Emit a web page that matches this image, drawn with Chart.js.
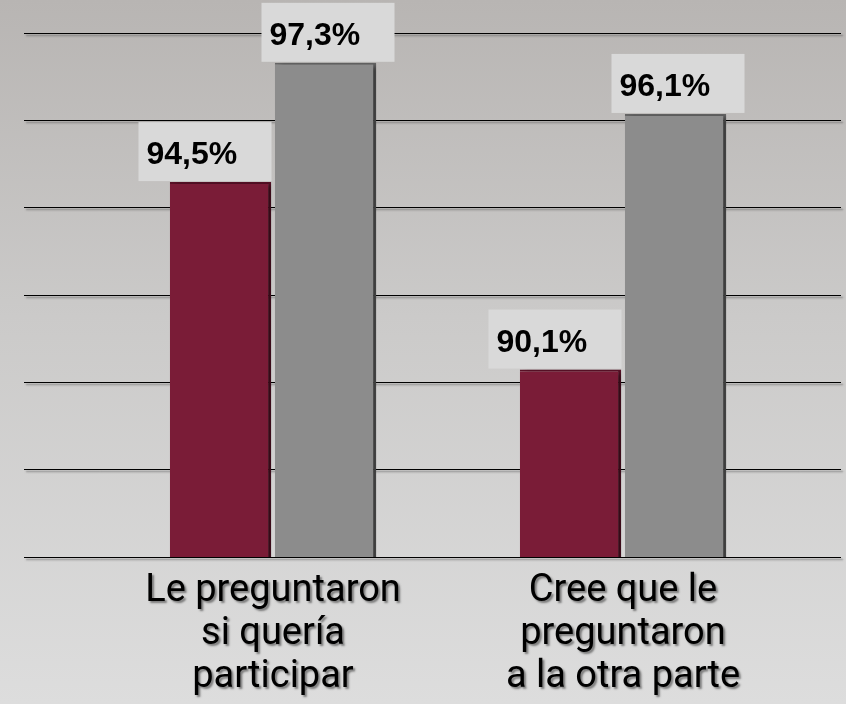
<!DOCTYPE html>
<html>
<head>
<meta charset="utf-8">
<script src="https://cdn.jsdelivr.net/npm/chart.js@4"></script>
<style>
  html, body { margin: 0; padding: 0; }
  body { width: 846px; height: 704px; background: linear-gradient(to bottom, #b8b5b3 0%, #cbcac9 45%, #dddddd 100%); }
  #wrap { width: 846px; height: 704px; }
</style>
</head>
<body>
<div id="wrap"><canvas id="respChart"></canvas></div>
<script>
const categories = [
  ['Le preguntaron', 'si quería', 'participar'],
  ['Cree que le', 'preguntaron', 'a la otra parte']
];
const seriesA = [94.5, 90.1];   // guinda
const seriesB = [97.3, 96.1];   // gris
const yMin = 85.7;
const yMax = 98;

const ctx = document.getElementById('respChart');

// sombra gris para textos y lineas de la grilla
const shadowPlugin = {
  id: 'shadows',
  beforeDraw(chart) {
    const c = chart.ctx;
    c.shadowColor = 'rgba(60,60,60,0.6)';
    c.shadowOffsetX = 2;
    c.shadowOffsetY = 2;
    c.shadowBlur = 2;
  },
  beforeDatasetsDraw(chart) {
    const c = chart.ctx;
    c.shadowColor = 'rgba(0,0,0,0.45)';
    c.shadowOffsetX = 5;
    c.shadowOffsetY = 1;
    c.shadowBlur = 5;
  },
  afterDatasetsDraw(chart) {
    const c = chart.ctx;
    c.shadowColor = 'transparent';
    c.shadowOffsetX = 0;
    c.shadowOffsetY = 0;
    c.shadowBlur = 0;
    // etiquetas de valor en cajas claras
    const shift = [82, 64];
    chart.data.datasets.forEach((ds, i) => {
      chart.getDatasetMeta(i).data.forEach((bar, j) => {
        const w = 133, h = 59;
        const left = bar.x - shift[i];
        const top = bar.y - 1 - h;
        c.fillStyle = '#d9d9d9';
        c.fillRect(left, top, w, h);
        c.fillStyle = '#000';
        c.font = 'bold 32px "Liberation Sans", Arial, sans-serif';
        c.textAlign = 'left';
        c.textBaseline = 'alphabetic';
        c.fillText(ds.data[j].toFixed(1).replace('.', ',') + '%', left + 8, top + 42);
      });
    });
  },
  afterDraw(chart) {
    chart.ctx.shadowColor = 'transparent';
  }
};

new Chart(ctx, {
  type: 'bar',
  data: {
    labels: categories,
    datasets: [
      {
        data: seriesA,
        backgroundColor: '#7a1c37',
        borderColor: '#5a1127',
        borderWidth: { top: 2, right: 3, left: 0, bottom: 0 },
        borderSkipped: 'bottom'
      },
      {
        data: seriesB,
        backgroundColor: '#8c8c8c',
        borderColor: '#666666',
        borderWidth: { top: 2, right: 3, left: 0, bottom: 0 },
        borderSkipped: 'bottom'
      }
    ]
  },
  options: {
    responsive: true,
    maintainAspectRatio: false,
    animation: false,
    layout: { padding: { top: 33, left: 24, right: 5, bottom: 0 } },
    datasets: { bar: { categoryPercentage: 0.6, barPercentage: 0.965 } },
    plugins: {
      legend: { display: false },
      tooltip: { enabled: false },
      title: { display: false }
    },
    scales: {
      x: {
        grid: { display: false, drawTicks: false },
        border: { display: false },
        afterFit(scale) { scale.height = 147; },
        ticks: {
          padding: 13,
          color: '#000',
          font: { family: 'Roboto, "DejaVu Sans", sans-serif', size: 38, lineHeight: '43px' },
          maxRotation: 0
        }
      },
      y: {
        min: yMin,
        max: yMax,
        border: { display: false },
        grid: { color: '#000', lineWidth: 1, tickLength: 74, tickColor: '#000' },
        ticks: { display: false, count: 7 }
      },
      y2: {
        position: 'right',
        min: yMin,
        max: yMax,
        border: { display: false },
        grid: { drawOnChartArea: false, color: '#000', lineWidth: 1, tickLength: 43, tickColor: '#000' },
        ticks: { display: false, count: 7 }
      }
    }
  },
  plugins: [shadowPlugin]
});
</script>
</body>
</html>
